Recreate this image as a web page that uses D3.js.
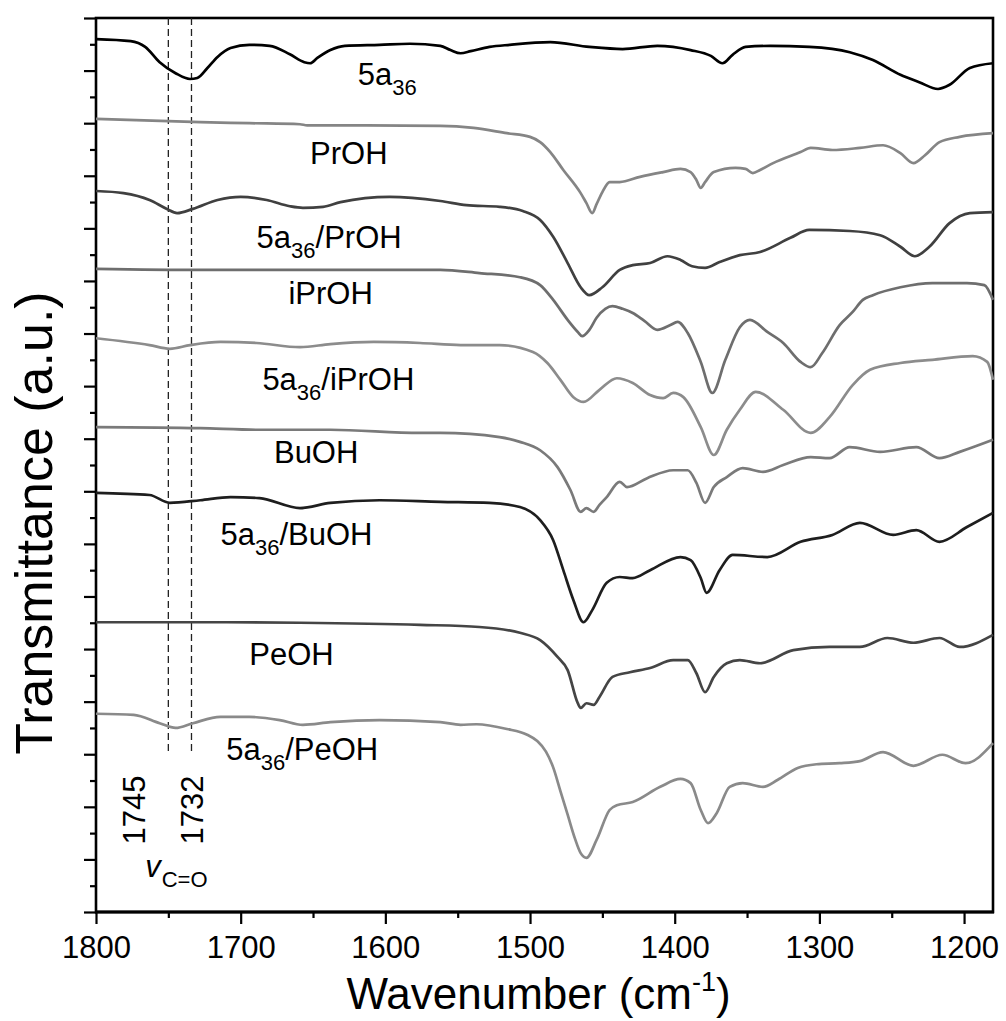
<!DOCTYPE html>
<html lang="en">
<head>
    <meta charset="UTF-8">
    <title>FTIR spectra 5a36 / alcohols</title>
    <script src="https://d3js.org/d3.v7.min.js"></script>
    <style>
        body { margin: 0; background: #fff; }
        text { font-family: "Liberation Sans", Arial, sans-serif; fill: #000; }
    </style>
</head>
<body>
    <svg id="chart" width="1006" height="1021"></svg>

    <script>
        // ---- data (wavenumber cm-1, transmittance a.u. incl. offset) ----
        const xMajorTicks = [1800, 1700, 1600, 1500, 1400, 1300, 1200];
        const xMinorTicks = [1750, 1650, 1550, 1450, 1350, 1250];
        const carbonylLines = [1750, 1734];            // where the dashed lines sit
        const carbonylLabels = ["1745", "1732"];
        const carbonylLabelAt = [1774, 1734];           // label centres (wavenumber)

        const spectrumNames = ["5a36", "PrOH", "5a36/PrOH", "iPrOH", "5a36/iPrOH",
                               "BuOH", "5a36/BuOH", "PeOH", "5a36/PeOH"];

        const s5a36 = [[1800,16.60],[1776,16.56],[1766,16.45],[1756,16.16],[1745,15.95],[1735,15.84],
            [1730,15.86],[1723,16.05],[1716,16.26],[1707,16.43],[1694,16.49],[1680,16.47],[1666,16.31],
            [1656,16.16],[1652,16.14],[1647,16.24],[1638,16.39],[1628,16.47],[1604,16.49],[1583,16.51],
            [1562,16.47],[1555,16.39],[1548,16.33],[1541,16.37],[1528,16.45],[1514,16.49],[1486,16.54],
            [1459,16.45],[1436,16.41],[1412,16.47],[1389,16.39],[1375,16.28],[1367,16.14],[1360,16.30],
            [1351,16.45],[1334,16.47],[1307,16.45],[1279,16.35],[1263,16.20],[1244,15.92],[1231,15.78],
            [1218,15.65],[1210,15.73],[1196,16.05],[1180,16.14]];

        const sPrOH = [[1800,15.08],[1728,15.02],[1694,15.00],[1659,14.98],[1654,14.96],
            [1631,14.96],[1562,14.95],[1539,14.91],[1516,14.81],[1500,14.74],[1493,14.64],[1486,14.45],
            [1477,14.11],[1465,13.67],[1461,13.48],[1457,13.29],[1454,13.46],[1450,13.69],[1445,13.88],
            [1438,13.88],[1424,13.98],[1408,14.07],[1396,14.13],[1389,14.07],[1385,13.92],[1382,13.77],
            [1379,13.88],[1373,14.07],[1358,14.15],[1351,14.13],[1346,14.05],[1341,14.11],[1332,14.24],
            [1313,14.45],[1306,14.53],[1291,14.49],[1272,14.53],[1256,14.58],[1244,14.43],[1235,14.24],
            [1227,14.39],[1217,14.64],[1203,14.74],[1180,14.81]];

        const s5a36PrOH = [[1800,13.71],[1781,13.67],[1763,13.54],[1751,13.37],[1744,13.29],[1733,13.37],
            [1716,13.54],[1700,13.60],[1682,13.54],[1666,13.42],[1657,13.39],[1643,13.41],[1631,13.50],
            [1597,13.60],[1562,13.52],[1544,13.44],[1521,13.41],[1505,13.33],[1493,13.16],[1484,12.84],
            [1474,12.34],[1465,11.88],[1459,11.73],[1450,11.88],[1438,12.21],[1429,12.30],[1417,12.34],
            [1405,12.47],[1396,12.40],[1388,12.28],[1379,12.25],[1369,12.36],[1355,12.49],[1341,12.55],
            [1320,12.82],[1307,12.97],[1279,12.95],[1258,12.87],[1244,12.65],[1234,12.47],[1224,12.65],
            [1210,13.10],[1196,13.29],[1180,13.31]];

        const siPrOH = [[1800,12.23],[1728,12.21],[1631,12.21],[1562,12.21],[1535,12.15],[1507,12.07],
            [1493,11.92],[1484,11.64],[1474,11.26],[1467,11.03],[1464,10.95],[1459,11.07],[1454,11.30],
            [1448,11.47],[1443,11.52],[1436,11.47],[1429,11.39],[1421,11.24],[1412,11.07],[1403,11.16],
            [1398,11.22],[1391,11.01],[1382,10.46],[1374,9.87],[1365,10.50],[1355,11.12],[1348,11.26],
            [1336,11.03],[1325,10.82],[1313,10.46],[1306,10.36],[1298,10.63],[1286,11.16],[1277,11.41],
            [1270,11.64],[1263,11.73],[1244,11.88],[1222,11.96],[1198,11.96],[1186,11.92],[1180,11.64]];

        const s5a36iPrOH = [[1800,10.91],[1763,10.78],[1749,10.71],[1735,10.78],[1714,10.84],[1689,10.82],
            [1659,10.74],[1638,10.80],[1608,10.84],[1576,10.82],[1548,10.78],[1521,10.78],[1498,10.65],
            [1488,10.44],[1479,10.12],[1470,9.79],[1463,9.70],[1452,9.93],[1440,10.15],[1429,10.06],
            [1417,9.83],[1408,9.77],[1401,9.87],[1394,9.79],[1382,9.22],[1373,8.69],[1364,9.17],
            [1355,9.55],[1344,9.89],[1325,9.55],[1306,9.11],[1293,9.41],[1277,10.02],[1265,10.31],
            [1244,10.44],[1222,10.50],[1194,10.57],[1184,10.46],[1180,10.12]];

        const sBuOH = [[1800,9.22],[1728,9.20],[1689,9.17],[1638,9.17],[1576,9.11],[1562,9.11],[1521,9.03],
            [1507,8.94],[1493,8.78],[1481,8.46],[1472,8.02],[1465,7.61],[1461,7.68],[1456,7.61],[1452,7.74],
            [1447,7.89],[1438,8.18],[1433,8.08],[1419,8.25],[1401,8.40],[1391,8.40],[1385,8.16],[1379,7.78],
            [1373,8.08],[1364,8.27],[1353,8.44],[1339,8.37],[1325,8.50],[1306,8.65],[1293,8.63],[1279,8.84],
            [1258,8.75],[1233,8.84],[1217,8.63],[1203,8.75],[1180,8.98]];

        const s5a36BuOH = [[1800,7.97],[1763,7.93],[1749,7.78],[1728,7.83],[1707,7.89],[1687,7.87],
            [1659,7.68],[1638,7.78],[1604,7.83],[1562,7.80],[1528,7.78],[1507,7.70],[1493,7.45],[1484,7.07],
            [1477,6.50],[1470,5.93],[1463,5.51],[1457,5.74],[1447,6.26],[1438,6.37],[1429,6.35],[1417,6.50],
            [1396,6.75],[1389,6.69],[1382,6.35],[1378,6.07],[1369,6.50],[1360,6.79],[1336,6.75],[1313,7.04],
            [1291,7.17],[1272,7.40],[1249,7.17],[1233,7.26],[1217,7.04],[1198,7.32],[1180,7.59]];

        const sPeOH = [[1800,5.51],[1728,5.51],[1659,5.50],[1576,5.46],[1535,5.42],[1507,5.31],[1493,5.17],
            [1481,4.85],[1474,4.60],[1467,3.97],[1465,3.88],[1461,3.97],[1456,3.94],[1452,4.09],[1443,4.47],
            [1431,4.56],[1417,4.64],[1401,4.79],[1391,4.79],[1385,4.54],[1379,4.18],[1373,4.47],[1364,4.73],
            [1355,4.79],[1341,4.73],[1318,4.98],[1293,5.04],[1272,5.04],[1253,5.21],[1235,5.12],[1217,5.21],
            [1203,5.04],[1180,5.27]];

        const s5a36PeOH = [[1800,3.77],[1774,3.75],[1756,3.59],[1745,3.50],[1733,3.59],[1714,3.71],
            [1694,3.71],[1673,3.65],[1657,3.56],[1638,3.61],[1604,3.65],[1562,3.61],[1548,3.56],[1537,3.57],
            [1516,3.48],[1502,3.37],[1495,3.25],[1489,3.05],[1484,2.75],[1479,2.30],[1474,1.85],[1469,1.40],
            [1465,1.12],[1461,1.03],[1454,1.37],[1445,1.94],[1440,2.03],[1429,2.09],[1410,2.38],[1396,2.53],
            [1389,2.45],[1382,1.94],[1377,1.69],[1371,1.88],[1362,2.38],[1353,2.45],[1339,2.38],[1329,2.51],
            [1315,2.74],[1302,2.81],[1286,2.83],[1272,2.87],[1256,3.04],[1235,2.78],[1215,2.99],[1199,2.83],
            [1180,3.21]];

        const spectra = [s5a36, sPrOH, s5a36PrOH, siPrOH, s5a36iPrOH, sBuOH, s5a36BuOH, sPeOH, s5a36PeOH];

        // label anchors in data units (left end of text, baseline)
        const labelWavenumber = [1619, 1652, 1689, 1667, 1685, 1677, 1714, 1694, 1710];
        const labelLevel = [15.73, 14.22, 12.63, 11.56, 9.93, 8.54, 6.98, 4.70, 2.89];

        // ---- styles ----
        const lineColors = ["#000000", "#858585", "#404040", "#6e6e6e", "#8c8c8c",
                            "#7a7a7a", "#1e1e1e", "#454545", "#8a8a8a"];

        const width = 1006, height = 1021;
        const margin = { top: 18, right: 13, bottom: 109, left: 96 };
        const svg = d3.select("#chart");

        const x = d3.scaleLinear()
            .domain([1800, 1180])
            .range([margin.left, width - margin.right]);

        const y = d3.scaleLinear()
            .domain([0, 17])
            .range([height - margin.bottom, margin.top]);

        const x0 = x.range()[0], x1 = x.range()[1];
        const yBot = y.range()[0], yTop = y.range()[1];

        // y axis ticks (no labels), major every 1, minor every 0.5
        const yMajor = svg.append("g")
            .attr("transform", `translate(${x0},0)`)
            .call(d3.axisLeft(y).tickValues(d3.range(0, 17.01, 1)).tickSize(12).tickFormat(""));
        const yMinor = svg.append("g")
            .attr("transform", `translate(${x0},0)`)
            .call(d3.axisLeft(y).tickValues(d3.range(0.5, 17, 1)).tickSize(6).tickFormat(""));
        [yMajor, yMinor].forEach(g => {
            g.select(".domain").remove();
            g.selectAll("line").attr("stroke", "#000").attr("stroke-width", 2.2);
        });

        // x axis
        const xAxis = svg.append("g")
            .attr("transform", `translate(0,${yBot})`)
            .call(d3.axisBottom(x).tickValues(xMajorTicks).tickSize(12).tickPadding(12)
                .tickFormat(d3.format("d")));
        const xMinor = svg.append("g")
            .attr("transform", `translate(0,${yBot})`)
            .call(d3.axisBottom(x).tickValues(xMinorTicks).tickSize(6).tickFormat(""));
        [xAxis, xMinor].forEach(g => {
            g.select(".domain").remove();
            g.selectAll("line").attr("stroke", "#000").attr("stroke-width", 2.2);
        });
        xAxis.selectAll("text")
            .style("font-size", "31px")
            .style("font-family", "'Liberation Sans', Arial, sans-serif")
            .attr("fill", "#000");

        // frame
        svg.append("rect")
            .attr("x", x0).attr("y", yTop)
            .attr("width", x1 - x0).attr("height", yBot - yTop)
            .attr("fill", "none").attr("stroke", "#000").attr("stroke-width", 2.6);
        svg.append("line")
            .attr("x1", x0 - 1).attr("x2", x1 + 1)
            .attr("y1", yBot).attr("y2", yBot)
            .attr("stroke", "#000").attr("stroke-width", 3.2);

        // dashed carbonyl markers
        svg.append("g")
            .selectAll("line")
            .data(carbonylLines)
            .join("line")
            .attr("x1", d => x(d)).attr("x2", d => x(d))
            .attr("y1", yTop).attr("y2", y(3.04))
            .attr("stroke", "#222")
            .attr("stroke-width", 1.3)
            .attr("stroke-dasharray", "7,4");

        // spectra
        const line = d3.line()
            .x(d => x(d[0]))
            .y(d => y(d[1]))
            .curve(d3.curveMonotoneX);

        svg.append("g")
            .selectAll("path")
            .data(spectra)
            .join("path")
            .attr("d", line)
            .attr("fill", "none")
            .attr("stroke", (d, i) => lineColors[i])
            .attr("stroke-width", 2.7)
            .attr("stroke-linejoin", "round");

        // spectrum labels, "5a36" written with subscript 36
        spectrumNames.forEach((name, i) => {
            const t = svg.append("text")
                .attr("x", x(labelWavenumber[i]))
                .attr("y", y(labelLevel[i]))
                .style("font-size", "31px");
            if (name.startsWith("5a36")) {
                t.append("tspan").text("5a");
                t.append("tspan").attr("dy", 10).style("font-size", "22px").text("36");
                const rest = name.slice(4);
                if (rest) t.append("tspan").attr("dy", -10).text(rest);
            } else {
                t.text(name);
            }
        });

        // carbonyl labels (rotated)
        svg.append("g")
            .selectAll("text")
            .data(carbonylLabels)
            .join("text")
            .attr("transform", (d, i) => `translate(${x(carbonylLabelAt[i])},${y(1.94)}) rotate(-90)`)
            .attr("text-anchor", "middle")
            .attr("dy", "0.36em")
            .style("font-size", "31px")
            .text(d => d);

        const nu = svg.append("text")
            .attr("x", x(1766))
            .attr("y", y(0.67))
            .style("font-size", "31px");
        nu.append("tspan").style("font-style", "italic").text("v");
        nu.append("tspan").attr("dy", 10).attr("dx", 1).style("font-size", "22px").text("C=O");

        // axis titles
        const xt = svg.append("text")
            .attr("x", (x0 + x1) / 2 - 6)
            .attr("y", height - 12)
            .attr("text-anchor", "middle")
            .style("font-size", "44px");
        xt.append("tspan").text("Wavenumber (cm");
        xt.append("tspan").attr("dy", -18).style("font-size", "27px").text("-1");
        xt.append("tspan").attr("dy", 18).text(")");

        svg.append("text")
            .attr("transform", `translate(52,${(yTop + yBot) / 2 + 58}) rotate(-90)`)
            .attr("text-anchor", "middle")
            .style("font-size", "52px")
            .text("Transmittance (a.u.)");
    </script>
</body>
</html>
